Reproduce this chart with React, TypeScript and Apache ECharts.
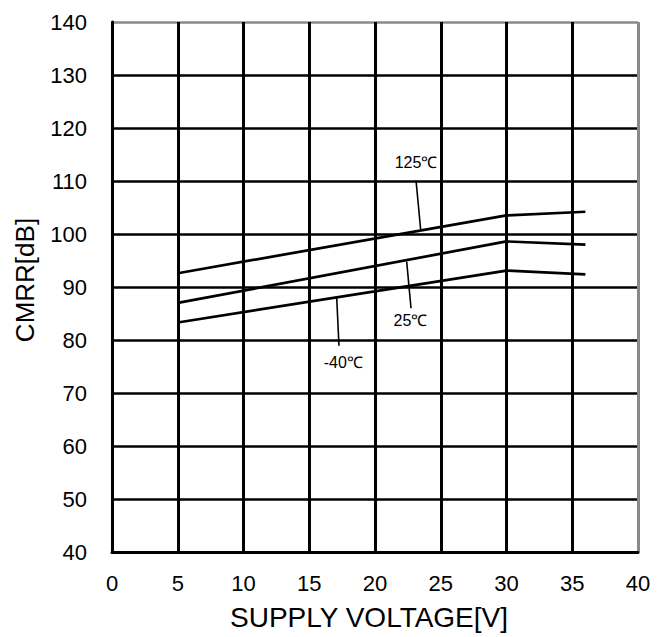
import React, { useEffect, useRef } from "react";
import * as echarts from "echarts";

const voltages = [5, 30, 36];
const cmrr125 = [92.6, 103.5, 104.2];
const cmrr25 = [87.0, 98.6, 98.0];
const cmrrM40 = [83.3, 93.1, 92.4];

const seriesNames = ["125℃", "25℃", "-40℃"];
// leader lines: [x1, y1, x2, y2] in data units
const leaderLines = [
  [23.12, 110.1, 23.47, 100.9],
  [22.41, 94.8, 22.74, 86.0],
  [17.09, 87.9, 17.26, 78.9],
];
// label centers in data units
const labelPos = [
  [23.12, 113.5],
  [22.7, 83.6],
  [17.59, 75.7],
];

const xTicks = [0, 5, 10, 15, 20, 25, 30, 35, 40];
const yTicks = [40, 50, 60, 70, 80, 90, 100, 110, 120, 130, 140];

const FONT = "'Liberation Sans', Arial, Helvetica, sans-serif";

export default function App() {
  const ref = useRef<HTMLDivElement>(null);
  useEffect(() => {
    document.body.style.margin = "0";
    const chart = echarts.init(ref.current!, null, { renderer: "svg" });
    const values = [cmrr125, cmrr25, cmrrM40];
    const xColors = xTicks.map((_, i) => (i === xTicks.length - 1 ? "#8a8a8a" : "#000"));
    const yColors = yTicks.map((_, i) => (i === yTicks.length - 1 ? "#8a8a8a" : "#000"));
    chart.setOption({
      animation: false,
      backgroundColor: "#fff",
      textStyle: { fontFamily: FONT },
      grid: { left: 112, top: 22, right: 21, bottom: 85, containLabel: false },
      xAxis: {
        type: "value",
        min: 0,
        max: 40,
        interval: 5,
        name: "SUPPLY VOLTAGE[V]",
        nameLocation: "middle",
        nameGap: 51,
        nameTextStyle: { fontSize: 28, color: "#000", fontFamily: FONT, padding: [0, 12, 0, 0] },
        axisLine: { show: true, lineStyle: { color: "#000", width: 3 } },
        axisTick: { show: false },
        axisLabel: { fontSize: 22, color: "#000", margin: 20, fontFamily: FONT },
        splitLine: { show: true, lineStyle: { color: xColors, width: 3 } },
      },
      yAxis: {
        type: "value",
        min: 40,
        max: 140,
        interval: 10,
        name: "CMRR[dB]",
        nameLocation: "middle",
        nameGap: 74,
        nameTextStyle: { fontSize: 26, color: "#000", fontFamily: FONT, padding: [0, 0, 0, 14] },
        axisLine: { show: true, lineStyle: { color: "#000", width: 3 } },
        axisTick: { show: false },
        axisLabel: { fontSize: 22, color: "#000", margin: 25, fontFamily: FONT },
        splitLine: { show: true, lineStyle: { color: yColors, width: 2.5 } },
      },
      series: seriesNames.map((name, si) => ({
        name,
        type: "line",
        showSymbol: false,
        symbol: "none",
        data: voltages.map((v, i) => [v, values[si][i]]),
        lineStyle: { color: "#000", width: 2.7 },
        z: 5,
        markLine: {
          silent: true,
          symbol: ["none", "none"],
          label: { show: false },
          lineStyle: { color: "#000", width: 1.6, type: "solid" },
          data: [
            [
              { coord: [leaderLines[si][0], leaderLines[si][1]] },
              { coord: [leaderLines[si][2], leaderLines[si][3]] },
            ],
          ],
        },
        markPoint: {
          silent: true,
          symbol: "circle",
          symbolSize: 1,
          itemStyle: { color: "rgba(0,0,0,0)" },
          label: {
            show: true,
            position: "inside",
            formatter: name,
            color: "#000",
            fontSize: 16,
            fontFamily: FONT,
          },
          data: [{ coord: labelPos[si] }],
        },
      })),
    });
    return () => chart.dispose();
  }, []);
  return <div ref={ref} style={{ width: 659, height: 637 }} />;
}
